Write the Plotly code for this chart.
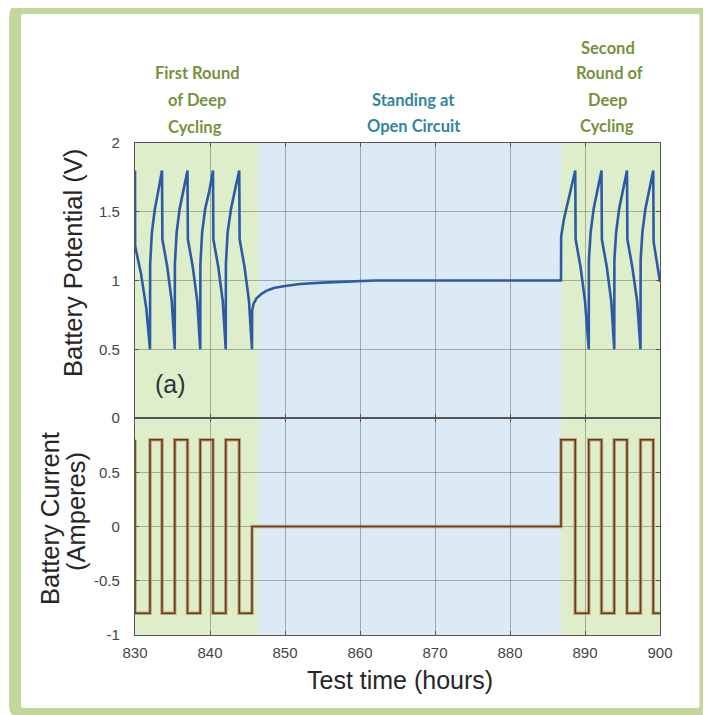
import plotly.graph_objects as go

# ---------------- data ----------------
volt_time = [
    830.0, 830.02, 830.8, 831.5, 832.0,
    832.02, 832.25, 832.65, 833.1, 833.6,
    833.65, 834.3, 834.9, 835.3,
    835.32, 835.55, 835.95, 836.45, 837.0,
    837.05, 837.7, 838.3, 838.7,
    838.72, 838.95, 839.35, 839.9, 840.4,
    840.45, 841.1, 841.7, 842.1,
    842.12, 842.35, 842.8, 843.3, 843.9,
    843.95, 844.6, 845.2, 845.6,
    845.62, 845.8, 846.2, 846.8, 847.5, 848.5, 850.0, 852.0, 855.0, 858.0, 862.0, 886.8,
    886.82, 887.2, 887.8, 888.3, 888.7,
    888.75, 889.4, 890.0, 890.5,
    890.52, 890.75, 891.15, 891.65, 892.2,
    892.25, 892.9, 893.5, 893.9,
    893.92, 894.15, 894.55, 895.05, 895.6,
    895.65, 896.3, 896.95, 897.4,
    897.42, 897.65, 898.05, 898.55, 899.1,
    899.15, 899.6, 900.0,
]
volt_value = [
    1.80, 1.25, 1.05, 0.80, 0.50,
    1.12, 1.35, 1.52, 1.65, 1.80,
    1.30, 1.10, 0.85, 0.50,
    1.12, 1.35, 1.52, 1.65, 1.80,
    1.30, 1.10, 0.85, 0.50,
    1.12, 1.35, 1.52, 1.65, 1.80,
    1.30, 1.10, 0.85, 0.50,
    1.12, 1.35, 1.52, 1.65, 1.80,
    1.30, 1.10, 0.85, 0.50,
    0.78, 0.83, 0.87, 0.90, 0.925, 0.945, 0.96, 0.975, 0.985, 0.992, 1.0, 1.0,
    1.32, 1.45, 1.60, 1.70, 1.80,
    1.30, 1.10, 0.85, 0.50,
    1.15, 1.35, 1.52, 1.65, 1.80,
    1.30, 1.10, 0.85, 0.50,
    1.15, 1.35, 1.52, 1.65, 1.80,
    1.30, 1.10, 0.85, 0.50,
    1.15, 1.35, 1.52, 1.65, 1.80,
    1.28, 1.12, 0.99,
]

curr_time = [830.0, 830.0, 832.0, 833.6, 835.3, 837.0, 838.7, 840.4, 842.1, 843.9,
             845.6, 886.8, 888.7, 890.5, 892.2, 893.9, 895.6, 897.4, 899.1, 900.0]
curr_value = [0.8, -0.8, 0.8, -0.8, 0.8, -0.8, 0.8, -0.8, 0.8, -0.8,
              0.0, 0.8, -0.8, 0.8, -0.8, 0.8, -0.8, 0.8, -0.8, -0.8]

phase_starts = [830.0, 846.5, 886.8]
phase_ends = [846.5, 886.8, 900.0]
phase_colors = ["#deeecb", "#dbeaf4", "#deeecb"]

x_ticks = [830, 840, 850, 860, 870, 880, 890, 900]
v_ticks = [0, 0.5, 1, 1.5, 2]
v_tick_text = ["0", "0.5", "1", "1.5", "2"]
i_ticks = [-1, -0.5, 0, 0.5]
i_tick_text = ["-1", "-0.5", "0", "0.5"]

# ---------------- layout geometry (pixels) ----------------
# the page body adds an 8px offset; figure is sized so that page pixels match
OFF = 8
W, H = 711 - OFF, 715 - OFF
L, T = 135 - OFF, 143 - OFF
R = W - (660 - OFF)
B = H - (635 - OFF)
PW, PH = W - L - R, H - T - B
SPLIT = 0.441


def px(x):
    return (x - OFF - L) / PW


def py(y):
    return (H - B - (y - OFF)) / PH


fig = go.Figure()

fig.add_trace(go.Scatter(x=volt_time, y=volt_value, mode="lines",
                         line=dict(color="#2d5aa6", width=2.6),
                         xaxis="x2", yaxis="y", showlegend=False, hoverinfo="skip"))
fig.add_trace(go.Scatter(x=curr_time, y=curr_value, mode="lines",
                         line=dict(color="rgba(180,140,90,0.7)", width=3.6, shape="hv"),
                         xaxis="x", yaxis="y2", showlegend=False, hoverinfo="skip"))
fig.add_trace(go.Scatter(x=curr_time, y=curr_value, mode="lines",
                         line=dict(color="#6a3a1e", width=1.6, shape="hv"),
                         xaxis="x", yaxis="y2", showlegend=False, hoverinfo="skip"))

shapes = []
for s, e, c in zip(phase_starts, phase_ends, phase_colors):
    shapes.append(dict(type="rect", xref="x", yref="paper", x0=s, x1=e, y0=0, y1=1,
                       fillcolor=c, line=dict(width=0), layer="below"))

# outer rounded frame (page pixel coordinates of the stroke centre line)
x0, x1, y0, y1, r = 15, 705.5, 8, 714, 9
path = (f"M {px(x0 + r)},{py(y0)} L {px(x1 - r)},{py(y0)} "
        f"Q {px(x1)},{py(y0)} {px(x1)},{py(y0 + r)} "
        f"L {px(x1)},{py(y1 - r)} Q {px(x1)},{py(y1)} {px(x1 - r)},{py(y1)} "
        f"L {px(x0 + r)},{py(y1)} Q {px(x0)},{py(y1)} {px(x0)},{py(y1 - r)} "
        f"L {px(x0)},{py(y0 + r)} Q {px(x0)},{py(y0)} {px(x0 + r)},{py(y0)} Z")
shapes.append(dict(type="path", xref="paper", yref="paper", path=path,
                   line=dict(color="#c3d69b", width=12), layer="above"))

olive = "#76923c"
teal = "#31859c"
afont = "Lato, 'Open Sans', sans-serif"
annotations = []
for txt, xx, yy, col in [
    ("First Round", 197, 73, olive), ("of Deep", 197, 100, olive), ("Cycling", 195, 127, olive),
    ("Standing at", 413, 100, teal), ("Open Circuit", 414, 126, teal),
    ("Second", 608, 48, olive), ("Round of", 609, 73, olive), ("Deep", 607, 100, olive),
    ("Cycling", 607, 126, olive),
]:
    annotations.append(dict(text=txt, x=px(xx), y=py(yy), xref="paper", yref="paper",
                            showarrow=False, xanchor="center", yanchor="middle",
                            font=dict(family=afont, size=16.5, color=col, weight="bold")))

tfont = "'Liberation Sans', Arial, sans-serif"
annotations.append(dict(text="Battery Potential (V)", x=px(73), y=py(263), xref="paper", yref="paper",
                        showarrow=False, textangle=-90, xanchor="center", yanchor="middle",
                        font=dict(family=tfont, size=25.5, color="#262626")))
annotations.append(dict(text="Battery Current", x=px(50), y=py(519), xref="paper", yref="paper",
                        showarrow=False, textangle=-90, xanchor="center", yanchor="middle",
                        font=dict(family=tfont, size=25.5, color="#262626")))
annotations.append(dict(text="(Amperes)", x=px(76), y=py(512), xref="paper", yref="paper",
                        showarrow=False, textangle=-90, xanchor="center", yanchor="middle",
                        font=dict(family=tfont, size=25.5, color="#262626")))
annotations.append(dict(text="Test time (hours)", x=px(400), y=py(680), xref="paper", yref="paper",
                        showarrow=False, xanchor="center", yanchor="middle",
                        font=dict(family=tfont, size=25, color="#262626")))
annotations.append(dict(text="(a)", x=834.7, y=0.25, xref="x2", yref="y",
                        showarrow=False, xanchor="center", yanchor="middle",
                        font=dict(family=tfont, size=25, color="#333333")))

grid = "rgba(85,95,85,0.45)"
axis_common = dict(showline=True, linecolor="#555555", linewidth=1.2, mirror="ticks",
                   ticks="inside", ticklen=4, tickcolor="#555555",
                   showgrid=True, gridcolor=grid, gridwidth=1, zeroline=False,
                   tickfont=dict(family=tfont, size=15, color="#444444"))

fig.update_layout(
    width=W, height=H,
    margin=dict(l=L, r=R, t=T, b=B),
    paper_bgcolor="white", plot_bgcolor="rgba(0,0,0,0)",
    shapes=shapes, annotations=annotations,
    xaxis=dict(domain=[0, 1], anchor="y2", range=[830, 900], tickvals=x_ticks,
               ticklabelstandoff=4, **axis_common),
    xaxis2=dict(domain=[0, 1], anchor="y", range=[830, 900], matches="x", tickvals=x_ticks,
                showticklabels=False, **axis_common),
    yaxis=dict(domain=[SPLIT, 1], anchor="x2", range=[0, 2], tickvals=v_ticks, ticktext=v_tick_text,
               ticklabelstandoff=11, **axis_common),
    yaxis2=dict(domain=[0, SPLIT], anchor="x", range=[-1, 1], tickvals=i_ticks, ticktext=i_tick_text,
                ticklabelstandoff=11, **axis_common),
)

fig.write_html("out.html")
